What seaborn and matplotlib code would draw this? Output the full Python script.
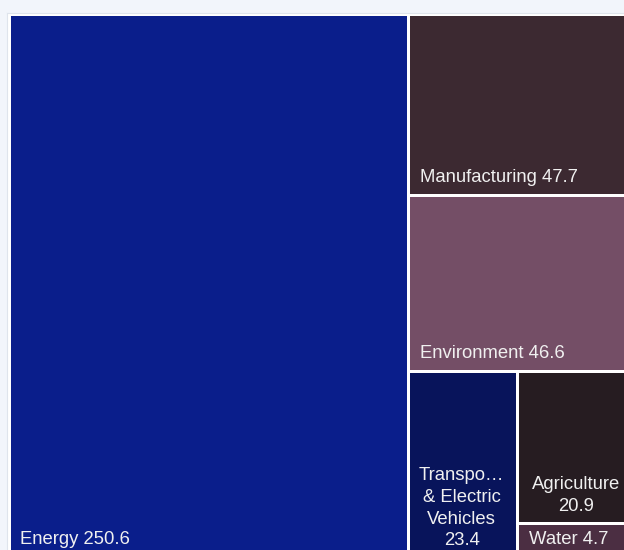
import matplotlib
matplotlib.use("Agg")
import matplotlib.pyplot as plt
from matplotlib.font_manager import FontProperties
import seaborn as sns

# ---- data ----
categories = ["Energy", "Manufacturing", "Environment",
              "Transportation & Electric Vehicles", "Agriculture", "Water"]
values = [250.6, 47.7, 46.6, 23.4, 20.9, 4.7]
colors = ["#0a1e8b", "#3c2931", "#744e66", "#08145b", "#261c21", "#4b2e42"]

sns.set_theme(style="white")
plt.rcParams["font.family"] = ["Liberation Sans", "DejaVu Sans"]

W_PX, H_PX, DPI = 624, 550, 100
fig = plt.figure(figsize=(W_PX / DPI, H_PX / DPI), dpi=DPI)
fig.patch.set_facecolor("#f2f5fb")

# axes in pixel units (extends past the right/bottom edge like the reference)
ax_left, ax_top, ax_w, ax_h = 7, 13, 633, 547
ax = fig.add_axes([ax_left / W_PX, (H_PX - ax_top - ax_h) / H_PX, ax_w / W_PX, ax_h / H_PX])
ax.set_xlim(0, ax_w)
ax.set_ylim(ax_h, 0)
ax.set_facecolor("white")
for s in ax.spines.values():
    s.set_color("#dfe4ec")
    s.set_linewidth(0.8)
ax.set_xticks([])
ax.set_yticks([])


def worst(row, short):
    s = sum(row)
    return max(max(short * short * r / (s * s), (s * s) / (short * short * r)) for r in row)


def squarify(vals, x, y, w, h):
    total = sum(vals)
    scale = w * h / total
    areas = [v * scale for v in vals]
    rects = []
    while areas:
        short = min(w, h)
        row = [areas[0]]
        i = 1
        while i < len(areas) and worst(row + [areas[i]], short) <= worst(row, short):
            row.append(areas[i])
            i += 1
        s = sum(row)
        if w >= h:
            cw = s / h
            yy = y
            for a in row:
                rh = a / cw
                rects.append((x, yy, cw, rh))
                yy += rh
            x += cw
            w -= cw
        else:
            rh = s / w
            xx = x
            for a in row:
                rw = a / rh
                rects.append((xx, y, rw, rh))
                xx += rw
            y += rh
            h -= rh
        areas = areas[i:]
    return rects


rects = squarify(values, 2.0, 1.5, 628.0, 543.0)
gap = 1.5
for (x, y, w, h), c in zip(rects, colors):
    ax.bar(x + gap, h - 2 * gap, width=w - 2 * gap, bottom=y + gap,
           align="edge", color=c, linewidth=0)

# ---- labels ----
fs_pt = 13.3
fp = FontProperties(family=["Liberation Sans"], size=fs_pt)
renderer = fig.canvas.get_renderer()


def tw(s):
    return renderer.get_text_width_height_descent(s, fp, ismath=False)[0]


pad = 9.5
line_h = 21.5
txt_color = "#f0f0f0"
for (x, y, w, h), name, v in zip(rects, categories, values):
    x0, w0 = x + gap, w - 2 * gap
    bottom = y + h - gap
    full = f"{name} {v:g}"
    avail = w0 - 2 * pad
    if tw(full) <= avail:
        ax.text(x0 + pad, bottom - 12, full, color=txt_color, fontsize=fs_pt,
                ha="left", va="baseline")
        continue
    # wrap words, truncating overly long words
    words = name.split()
    lines = []
    cur = ""
    for wd in words:
        if tw(wd) > avail:
            k = len(wd)
            while k > 1 and tw(wd[:k] + "…") > avail:
                k -= 1
            wd = wd[:k] + "…"
        cand = (cur + " " + wd).strip()
        if tw(cand) <= avail:
            cur = cand
        else:
            if cur:
                lines.append(cur)
            cur = wd
    if cur:
        lines.append(cur)
    lines.append(f"{v:g}")
    cx = x0 + w0 / 2 - 1.5
    n = len(lines)
    for j, ln in enumerate(lines):
        ax.text(cx, bottom - 11 - (n - 1 - j) * line_h, ln, color=txt_color,
                fontsize=fs_pt, ha="center", va="baseline")

fig.savefig("out.png", dpi=DPI, facecolor=fig.get_facecolor())
